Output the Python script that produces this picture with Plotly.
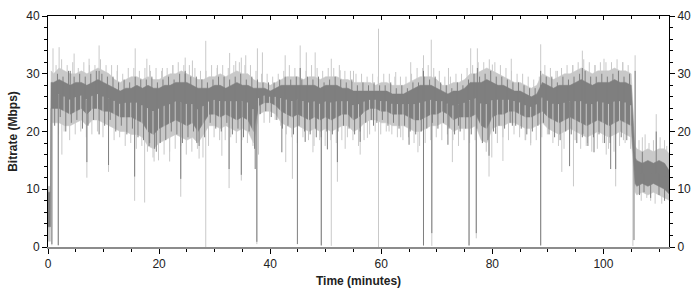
import numpy as np
import plotly.graph_objects as go

# ---------------- data ----------------
# time grid (minutes) of the envelope samples
TIME = [0, 0.45, 0.55] + list(range(1, 106)) + [105.7] + list(range(106, 113))

# light gray series (peak bitrate) envelope, Mbps
LIGHT_HI = ([10.5, 10.5, 30.5] +
            [30, 31, 30.5, 30, 30, 30.5, 30, 30.5, 31, 30.5,
             30, 29, 28.5, 29, 29.5, 29.5, 29, 29.5, 29, 29,
             29.5, 30, 30, 30.5, 30, 29.5, 29, 29, 29.5, 29.5,
             30, 29.5, 30, 30.5, 30, 30, 29, 28.5, 28.5, 28,
             28.5, 29, 29.5, 29.5, 29.5, 29, 29.5, 29.5, 29, 29.5,
             29.5, 29.5, 29, 29, 28.5, 28.5, 28.5, 28.5, 28, 28.5,
             28.5, 28, 28, 28, 28.5, 29, 29.5, 29.5, 29.5, 29,
             28, 28, 28.5, 28.5, 29, 30, 30, 30.5, 31, 30.5,
             30, 29.5, 29, 28.5, 28.5, 28, 27.5, 28, 30, 29.5,
             29, 29.5, 30, 30, 30.5, 31, 30.5, 30, 30.5, 30.5,
             30.5, 31, 30.5, 30.5, 30] +
            [17.5, 17, 16.5, 17, 16.5, 17, 17, 16])
LIGHT_LO = ([1, 1, 21.5] +
            [21.5, 21.5, 21, 21, 21.5, 22, 21, 22, 22, 21.5,
             21, 20.5, 20, 20, 19.5, 19.5, 19, 17.5, 17, 18,
             18.5, 19, 19.5, 19, 18.5, 19, 18, 19.5, 21, 21,
             20.5, 21, 20.5, 20, 20.5, 20, 18, 23, 23.5, 23.5,
             23, 21.5, 21, 20.5, 21, 20.5, 20, 20.5, 20, 20.5,
             20, 20.5, 21, 21, 20, 20.5, 21.5, 22, 22, 21.5,
             21.5, 21, 21, 21, 20.5, 20, 20, 20.5, 21, 21,
             21.5, 21, 20, 20.5, 20.5, 20.5, 21, 18.5, 18, 20.5,
             21, 21, 21.5, 21.5, 21, 20.5, 20.5, 21, 21.5, 20.5,
             20, 19.5, 20, 20.5, 20, 19.5, 19, 19.5, 20, 19.5,
             19, 19.5, 20, 19.5, 19] +
            [9.5, 9, 9.5, 9, 9.5, 9, 8.5, 8])

# dark gray series (average bitrate) envelope, Mbps
DARK_HI = ([9.5, 9.5, 28.5] +
           [28.5, 29, 28.5, 28, 28.5, 28.5, 28, 28.5, 29, 28.5,
            28, 27.5, 27, 27.5, 27.5, 28, 27.5, 28, 27.5, 27.5,
            28, 28, 28.5, 28.5, 28.5, 28, 27.5, 27.5, 27.5, 28,
            28, 27.5, 28, 28.5, 28, 28, 27.5, 27.5, 27.5, 27,
            27.5, 28, 28, 28, 28, 28, 28, 28, 27.5, 28,
            28, 28, 27.5, 27.5, 27, 27, 27, 27, 27, 27,
            27, 26.5, 26.5, 26.5, 27, 27.5, 28, 28, 28, 27.5,
            27, 26.5, 27, 27, 27.5, 28.5, 28.5, 28.5, 29, 28.5,
            28, 28, 27.5, 27, 27, 26.5, 26, 26.5, 28.5, 28,
            27.5, 28, 28, 28, 28.5, 29, 28.5, 28, 28.5, 28.5,
            28.5, 29, 28.5, 28.5, 28] +
           [15.5, 15, 14.5, 15, 14.5, 15, 14.5, 13])
DARK_LO = ([3.5, 3.5, 24] +
           [24, 24, 23.5, 23, 23.5, 24, 23, 24, 24, 23.5,
            23.5, 23, 22.5, 22.5, 22.5, 22, 21.5, 20, 19.5, 20.5,
            21, 21.5, 22, 21.5, 21, 21.5, 20, 21.5, 23, 23,
            22.5, 23, 22.5, 22, 22.5, 22, 20, 24.5, 25, 25,
            24.5, 23.5, 23, 22.5, 23, 22.5, 22, 22.5, 22, 22.5,
            22, 22.5, 23, 23, 22, 22.5, 23.5, 24, 24, 23.5,
            23.5, 23, 23, 23, 22.5, 22, 22, 22.5, 23, 23,
            23.5, 23, 22, 22.5, 22.5, 22.5, 23, 21, 20.5, 22.5,
            23, 23, 23.5, 23.5, 23, 22.5, 22.5, 23, 23.5, 22.5,
            22, 21.5, 22, 22.5, 22, 21.5, 21, 21.5, 22, 21.5,
            21, 21.5, 22, 21.5, 21] +
           [11, 10.5, 11, 10.5, 11, 10.5, 10, 9])

# isolated excursions (time in minutes, value in Mbps)
LIGHT_PEAK_T = [0.9, 2.0, 4.7, 7.4, 9.2, 12.5, 15.7, 17.8, 18.3, 20.6, 22.5, 24.7,
                26.0, 28.4, 30.5, 32.7, 33.8, 34.8, 35.6, 37.7, 38.6, 42.7, 45.4,
                46.5, 48.1, 51.0, 52.6, 55.0, 59.5, 62.6, 65.3, 67.6, 69.0, 72.1,
                76.1, 77.3, 80.0, 83.4, 88.7, 91.7, 94.5, 96.2, 98.5, 100.1,
                103.5, 105.7, 106.4, 107.0, 107.5, 108.2, 109.0, 109.5, 110.2,
                111.0, 111.4]
LIGHT_PEAK_V = [34.4, 34.6, 33.5, 32.6, 34.9, 31.5, 34.4, 32.6, 31.5, 31, 31.5, 32.8,
                32.3, 35.7, 31.5, 33.6, 32.2, 32.8, 33.2, 34.4, 33.7, 33.2, 34.9,
                33.7, 33.7, 32.6, 30.6, 30.5, 37.8, 30.3, 32, 33.2, 35.9, 31,
                34.4, 34.4, 31.6, 32.6, 35.1, 30.5, 31.5, 34, 31.5, 32.6,
                32, 33.2, 18.5, 19, 19.5, 18, 18.5, 23, 19,
                18.5, 17.5]
LIGHT_DIP_T = [0.7, 1.85, 2.5, 7.0, 10.9, 15.6, 17.4, 19.1, 21.9, 23.9, 27.2, 28.4,
               31.3, 32.6, 34.8, 37.6, 42.8, 44.0, 47.7, 49.2, 51.0, 52.1, 53.5,
               56.2, 57.5, 59.5, 61.4, 63.5, 66.6, 67.6, 69.1, 72.8, 75.8, 77.1,
               79.4, 81.9, 86.0, 86.9, 88.7, 92.5, 94.6, 97.1, 100.5, 102.2,
               103.6, 105.3, 106.8, 107.8, 108.5, 109.3, 110.5]
LIGHT_DIP_V = [0.3, 0.3, 16, 12, 13, 8, 7.7, 14.8, 14.8, 8.7, 15.3, 0,
               15.8, 10.2, 11.5, 0.5, 14.7, 11.8, 16.4, 0.2, 0.2, 11.3, 17,
               16, 18.9, 0, 20, 19, 16.4, 0.2, 0.2, 14.7, 0.2, 1.5,
               12.2, 14.9, 18.5, 17.6, 0.2, 13, 10.5, 18, 16, 10.5,
               18.5, 0.2, 8, 8.5, 8, 7.5, 7.5]
DARK_PEAK_T = [4.0, 9.2, 24.7, 45.4, 67.6, 77.3, 88.7, 96.2, 105.7, 107.0, 109.5]
DARK_PEAK_V = [30.5, 30.5, 30.5, 31, 30.5, 31, 30.5, 31, 30.5, 16.5, 20]
DARK_DIP_T = [0.7, 1.85, 7.0, 10.9, 15.6, 18.3, 19.5, 23.9, 26.8, 32.6, 34.8, 37.3,
              37.6, 42.1, 44.9, 46.3, 48.3, 49.2, 50.3, 52.1, 56.2, 58.6, 65.0,
              67.6, 69.1, 72.0, 73.9, 75.8, 77.1, 79.4, 80.6, 83.6, 88.7, 93.9,
              96.3, 98.3, 101.3, 102.2, 105.5, 106.5, 107.3, 108.5, 110.0, 111.0,
              111.9]
DARK_DIP_V = [0.5, 0.3, 14.7, 14.2, 12.2, 18, 16.5, 11.8, 18, 13.5, 12.5, 13.5,
              0.9, 16.4, 0.5, 18.2, 19, 0.3, 16.9, 14.7, 18.2, 21, 17.7,
              0.3, 2.4, 17.7, 21, 0.3, 2.4, 15.8, 19.6, 21, 0.3, 14,
              19.6, 16.4, 13.5, 13.5, 1.2, 9, 9.5, 8.5, 9, 8,
              0]

# per-minute jitter of the band edges (minutes 1..104)
JAG_MIN = list(range(1, 105))
DARK_JAG_LO = [21, 22.5, 20, 21.5, 22, 20.5, 21, 22, 19.5, 21,
               22, 20, 21, 19.5, 20.5, 19, 18.5, 17.5, 17, 18,
               18.5, 20, 19.5, 18, 19, 20, 17.5, 19, 21.5, 20.5,
               20, 21.5, 19.5, 20.5, 19, 20, 17, 23, 23.5, 22.5,
               22, 20.5, 21, 19.5, 21, 20, 19.5, 20.5, 19, 20,
               19.5, 20, 21, 20.5, 19.5, 20, 21.5, 22, 21.5, 22,
               21, 21.5, 20.5, 21, 20, 19.5, 20, 20.5, 21.5, 20.5,
               21.5, 20.5, 19.5, 20, 20.5, 19.5, 20.5, 18, 18.5, 20,
               21, 20.5, 21.5, 21, 20.5, 19.5, 20, 21, 21.5, 19.5,
               19, 18.5, 20, 19.5, 18, 19, 17.5, 19, 19.5, 18,
               18, 19.5, 19, 18.5]
DARK_JAG_HI = [30, 29.5, 30.5, 29.5, 30, 29.5, 30, 30.5, 30, 29.5,
               29.5, 28.5, 29, 28.5, 29.5, 29, 29, 29.5, 28.5, 29,
               29.5, 29, 30, 30, 29.5, 29.5, 29, 28.5, 29, 29.5,
               29.5, 29, 29.5, 30, 29, 29.5, 29, 28.5, 28.5, 28.5,
               29, 29.5, 29, 29.5, 29, 29.5, 29, 29.5, 28.5, 29,
               29.5, 29, 28.5, 29, 28, 28.5, 28, 28.5, 28, 28,
               28.5, 27.5, 28, 27.5, 28.5, 28.5, 29.5, 29, 29.5, 28.5,
               28, 27.5, 28.5, 28, 29, 30, 29.5, 30, 30.5, 29.5,
               29.5, 29, 28.5, 28.5, 28, 27.5, 27.5, 28, 29.5, 29.5,
               28.5, 29.5, 29, 29.5, 30, 30.5, 29.5, 29.5, 30, 29.5,
               30, 30.5, 29.5, 30]
LIGHT_JAG_HI = [31.5, 32.5, 31.5, 32, 31, 32, 31.5, 31.5, 32.5, 31.5,
                31.5, 30.5, 30, 31, 31, 30.5, 31, 30.5, 31, 30.5,
                31, 31.5, 32, 31.5, 31.5, 31, 30.5, 30.5, 31.5, 31,
                31.5, 31, 31.5, 32, 31.5, 31.5, 30.5, 30, 30, 29.5,
                30, 30.5, 31.5, 31, 31, 30.5, 31.5, 31, 30.5, 31,
                31, 31.5, 30.5, 30.5, 30, 30, 29.5, 30, 29.5, 30,
                30, 29.5, 29.5, 29.5, 30, 31, 31, 31.5, 31, 30.5,
                29.5, 29.5, 30, 30, 31, 31.5, 32, 32, 32.5, 32,
                31.5, 31, 30.5, 30, 30, 29.5, 29, 29.5, 31.5, 31,
                30.5, 31, 31.5, 31.5, 32, 32.5, 32, 31.5, 32, 32,
                32, 32.5, 32, 31.5]
LIGHT_JAG_LO = [19.5, 20, 18.5, 19.5, 20, 19, 19.5, 20, 19, 19.5,
                18.5, 19, 17.5, 18, 17, 17.5, 16.5, 15.5, 15, 16,
                16.5, 17, 17.5, 16, 16.5, 17, 15.5, 17.5, 19, 18.5,
                18.5, 19, 18, 18.5, 18, 17.5, 16, 21.5, 21.5, 22,
                21, 19.5, 19, 18, 19, 18.5, 17.5, 18.5, 17.5, 18.5,
                18, 18.5, 19, 18.5, 17.5, 18.5, 19.5, 20, 19.5, 20,
                19.5, 19, 18.5, 19, 18, 17.5, 18, 18.5, 19, 18.5,
                19.5, 18.5, 17.5, 18.5, 18, 18.5, 19, 16.5, 15.5, 18,
                19, 18.5, 19.5, 19, 18.5, 18, 18.5, 19, 19.5, 18,
                17.5, 17, 18, 18.5, 17, 17.5, 16.5, 17, 18, 17,
                16.5, 17.5, 18, 17]

LIGHT = "#c9c9c9"
DARK = "#7f7f7f"
FONT = "Liberation Sans, Arial, sans-serif"
MID = (np.array(DARK_HI) + np.array(DARK_LO)) / 2.0


def spikes(ts, vs):
    """vertical segments from the middle of the dark band to each value"""
    xs, ys = [], []
    for t, v in zip(ts, vs):
        base = float(np.interp(t, TIME, MID))
        xs += [t, t, None]
        ys += [base, v, None]
    return xs, ys


def spike_trace(ts, vs, color):
    sx, sy = spikes(ts, vs)
    return go.Scatter(x=sx, y=sy, mode="lines", line=dict(color=color, width=1),
                      hoverinfo="skip")


def band(lo, hi, color):
    return [go.Scatter(x=TIME, y=lo, mode="lines", line=dict(color=color, width=0.5),
                       hoverinfo="skip"),
            go.Scatter(x=TIME, y=hi, mode="lines", fill="tonexty", fillcolor=color,
                       line=dict(color=color, width=0.5), hoverinfo="skip")]


fig = go.Figure()
fig.add_traces(band(LIGHT_LO, LIGHT_HI, LIGHT))
fig.add_trace(spike_trace(LIGHT_PEAK_T, LIGHT_PEAK_V, LIGHT))
fig.add_trace(spike_trace(LIGHT_DIP_T, LIGHT_DIP_V, LIGHT))
fig.add_trace(spike_trace([k + 0.45 for k in JAG_MIN], LIGHT_JAG_HI, LIGHT))
fig.add_traces(band(DARK_LO, DARK_HI, DARK))
fig.add_trace(spike_trace([k + 0.9 for k in JAG_MIN], LIGHT_JAG_LO, LIGHT))
fig.add_trace(spike_trace([k + 0.2 for k in JAG_MIN], DARK_JAG_LO, DARK))
fig.add_trace(spike_trace([k + 0.7 for k in JAG_MIN], DARK_JAG_HI, DARK))
fig.add_trace(spike_trace(DARK_PEAK_T, DARK_PEAK_V, DARK))
fig.add_trace(spike_trace(DARK_DIP_T, DARK_DIP_V, DARK))

# invisible trace to carry the mirrored axes
fig.add_trace(go.Scatter(x=[0], y=[0], xaxis="x2", yaxis="y2", mode="markers",
                         marker=dict(opacity=0), hoverinfo="skip"))

XR = [0, 111.8]
tickfont = dict(family=FONT, size=12, color="#222")
fig.update_layout(
    width=700, height=292,
    margin=dict(l=48, r=27, t=9, b=45, pad=0),
    paper_bgcolor="white", plot_bgcolor="white",
    showlegend=False,
    xaxis=dict(range=XR, showline=True, linecolor="#8c8c8c", linewidth=2,
               ticks="outside", ticklen=5, tickwidth=1, tickcolor="#000",
               tick0=0, dtick=20, tickfont=tickfont,
               minor=dict(ticks="outside", dtick=5, ticklen=3, tickcolor="#000"),
               showgrid=False, zeroline=False, automargin=False,
               title=dict(text="<b>Time (minutes)</b>", standoff=6,
                          font=dict(family=FONT, size=12, color="#222"))),
    xaxis2=dict(range=XR, overlaying="x", side="top", anchor="y",
                showline=True, linecolor="#000", linewidth=1,
                ticks="inside", ticklen=4, tickcolor="#000", dtick=20, tick0=0,
                minor=dict(ticks="inside", dtick=5, ticklen=3, tickcolor="#000"),
                showticklabels=False, showgrid=False, zeroline=False),
    yaxis=dict(range=[0, 40], showline=True, linecolor="#000", linewidth=1,
               ticks="outside", ticklen=5, tickcolor="#000", dtick=10, tick0=0,
               tickfont=tickfont,
               minor=dict(ticks="outside", dtick=2, ticklen=3, tickcolor="#000"),
               showgrid=False, zeroline=False, automargin=False,
               title=dict(text="<b>Bitrate (Mbps)</b>", standoff=6,
                          font=dict(family=FONT, size=12, color="#222"))),
    yaxis2=dict(range=[0, 40], overlaying="y", side="right", anchor="x",
                showline=True, linecolor="#000", linewidth=1,
                ticks="outside", ticklen=5, tickcolor="#000", dtick=10, tick0=0,
                tickfont=tickfont,
                minor=dict(ticks="outside", dtick=2, ticklen=3, tickcolor="#000"),
                showgrid=False, zeroline=False),
)

fig.write_html("out.html")
